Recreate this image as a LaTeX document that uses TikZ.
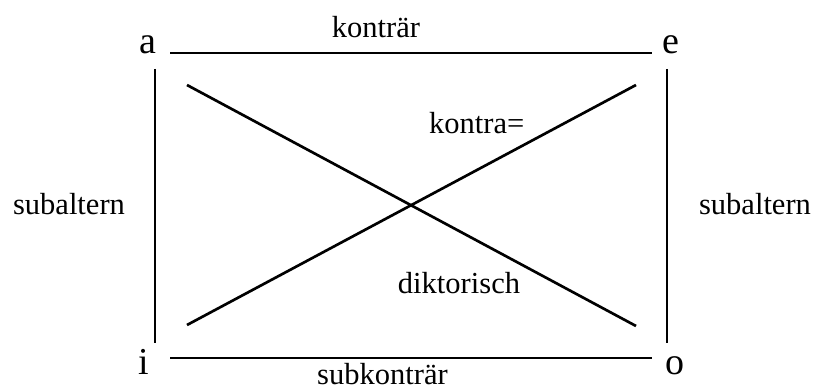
\documentclass[tikz,border=0pt]{standalone}
\usepackage{fontspec}
\setmainfont{Liberation Serif}
\begin{document}
\begin{tikzpicture}[x=0.75pt,y=-0.75pt,
  vertex/.style={inner sep=0pt,anchor=base,font=\fontsize{28.5}{34}\selectfont},
  lbl/.style={inner sep=0pt,anchor=base,font=\fontsize{22.9}{27}\selectfont},
  edge/.style={line width=2pt}]
\useasboundingbox (0,0) rectangle (817,391);
\node[vertex] (a) at (147.5,54) {a};
\node[vertex] (e) at (671,54) {e};
\node[vertex] (i) at (144,374) {i};
\node[vertex] (o) at (675,374) {o};
\coordinate (t1) at (170,53);
\coordinate (t2) at (652,53);
\coordinate (b1) at (170,358);
\coordinate (b2) at (652,358);
\coordinate (l1) at (155,69);
\coordinate (l2) at (155,343);
\coordinate (r1) at (667,69);
\coordinate (r2) at (667,343);
\coordinate (d1) at (187,85);
\coordinate (d2) at (636,326);
\coordinate (d3) at (187,325);
\coordinate (d4) at (636,85);
\draw[edge] (t1) -- (t2);
\draw[edge] (b1) -- (b2);
\draw[edge] (l1) -- (l2);
\draw[edge] (r1) -- (r2);
\draw[edge] (d1) -- (d2);
\draw[edge] (d3) -- (d4);
\node[lbl] (kontraer) at (376,37.3) {konträr};
\node[lbl] (subkontraer) at (382.5,384) {subkonträr};
\node[lbl] (subl) at (69,215) {subaltern};
\node[lbl] (subr) at (755,215) {subaltern};
\node[lbl] (kontra) at (476.7,133.3) {kontra=};
\node[lbl] (dikt) at (459,293.3) {diktorisch};
\end{tikzpicture}
\end{document}
